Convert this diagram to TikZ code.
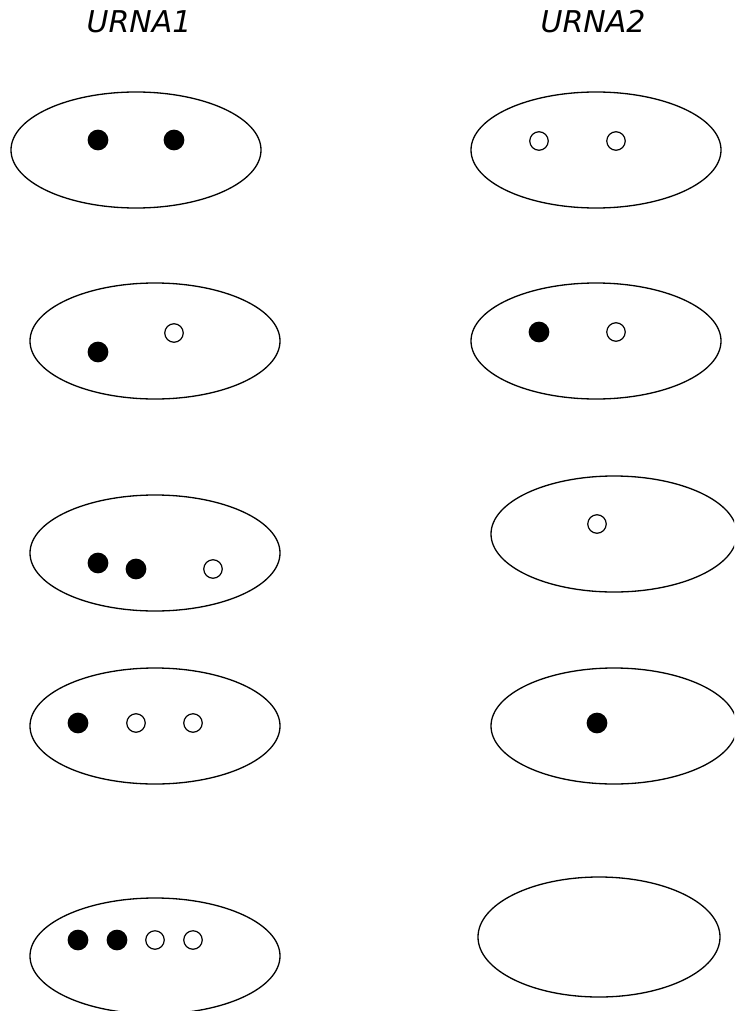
\documentclass[tikz,border=0pt]{standalone}
\usepackage{fontspec}
\setmainfont{DejaVu Sans}
\usetikzlibrary{shapes.geometric}
\begin{document}
\begin{tikzpicture}[x=1pt,y=-1pt,
  urn/.style={draw, line width=1.3pt, ellipse, inner sep=0pt, minimum width=250pt, minimum height=116pt},
  black ball/.style={draw, fill=black, line width=1.2pt, circle, inner sep=0pt, minimum size=19.5pt},
  white ball/.style={draw, fill=white, line width=1.2pt, circle, inner sep=0pt, minimum size=18.5pt},
  title/.style={anchor=base, font=\fontsize{30}{30}\selectfont\itshape, inner sep=0pt}]
\useasboundingbox (0,0) rectangle (734,1011);
\clip (0,0) rectangle (734,1011);
% titles
\node[title] (t1) at (139,33) {URNA1};
\node[title] (t2) at (593,33) {URNA2};
% row 1
\node[urn] (u11) at (136,150) {};
\node[black ball] (b111) at (98,140) {};
\node[black ball] (b112) at (174,140) {};
\node[urn] (u21) at (596,150) {};
\node[white ball] (w211) at (539,141) {};
\node[white ball] (w212) at (616,141) {};
% row 2
\node[urn] (u12) at (155,341) {};
\node[black ball] (b121) at (98,352) {};
\node[white ball] (w121) at (174,333) {};
\node[urn] (u22) at (596,341) {};
\node[black ball] (b221) at (539,332) {};
\node[white ball] (w221) at (616,332) {};
% row 3
\node[urn] (u13) at (155,553) {};
\node[black ball] (b131) at (98,563) {};
\node[black ball] (b132) at (136,569) {};
\node[white ball] (w131) at (213,569) {};
\node[urn, minimum width=246pt] (u23) at (614,534) {};
\node[white ball] (w231) at (597,524) {};
% row 4
\node[urn] (u14) at (155,726) {};
\node[black ball] (b141) at (78,723) {};
\node[white ball] (w141) at (136,723) {};
\node[white ball] (w142) at (193,723) {};
\node[urn, minimum width=246pt] (u24) at (614,726) {};
\node[black ball] (b241) at (597,723) {};
% row 5
\node[urn] (u15) at (155,956) {};
\node[black ball] (b151) at (78,940) {};
\node[black ball] (b152) at (117,940) {};
\node[white ball] (w151) at (155,940) {};
\node[white ball] (w152) at (193,940) {};
\node[urn, minimum width=242pt, minimum height=120pt] (u25) at (599,937) {};
\end{tikzpicture}
\end{document}
